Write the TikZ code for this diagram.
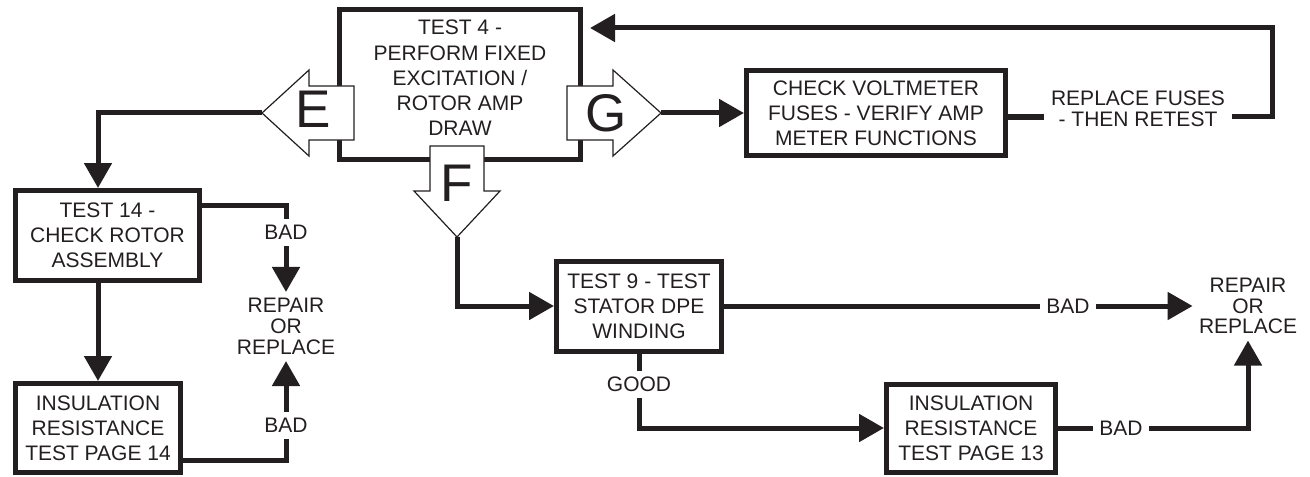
\documentclass[tikz,border=0pt]{standalone}
\usepackage{fontspec}
\setmainfont{Liberation Sans}
\usetikzlibrary{arrows.meta}
\definecolor{ink}{HTML}{231F20}

\tikzset{
  box/.style={draw=ink, line width=2.5pt, align=center, inner sep=0pt, text=ink,
    font=\fontsize{10.5}{12.6}\selectfont},
  txt/.style={align=center, inner sep=3pt, text=ink, font=\fontsize{10.5}{12.6}\selectfont},
  rep/.style={align=center, inner sep=3pt, text=ink, font=\fontsize{10.5}{10.4}\selectfont},
  wire/.style={draw=ink, line width=2.5pt},
  conn/.style={wire, -{Triangle[length=12.5pt,width=13.5pt]}},
  bigarrow/.style={draw=ink, line width=0.6pt, fill=white},
  letter/.style={inner sep=0pt, text=ink, font=\fontsize{26.5}{30}\selectfont},
}

\begin{document}
\begin{tikzpicture}[x=0.5pt,y=-0.5pt]
  \useasboundingbox (0,0) rectangle (1310,476);
  % boxes
  \node[box, minimum width=120.5pt, minimum height=75pt] (t4) at (460,84.5) {};
  \node[txt, inner sep=0pt] (t4txt) at (460,78) {TEST 4 -\\PERFORM FIXED\\EXCITATION /\\ROTOR AMP\\DRAW};
  \node[box, minimum width=129.5pt, minimum height=42.5pt] (chk) at (876,113) {CHECK VOLTMETER\\FUSES - VERIFY AMP\\METER FUNCTIONS};
  \node[box, minimum width=92pt, minimum height=45pt] (t14) at (107.5,235.5) {TEST 14 -\\CHECK ROTOR\\ASSEMBLY};
  \node[box, minimum width=82.5pt, minimum height=44.5pt] (ins14) at (98,428) {INSULATION\\RESISTANCE\\TEST PAGE 14};
  \node[box, minimum width=82.5pt, minimum height=45pt] (t9) at (639,306) {TEST 9 - TEST\\STATOR DPE\\WINDING};
  \node[box, minimum width=84.5pt, minimum height=44pt] (ins13) at (971,428) {INSULATION\\RESISTANCE\\TEST PAGE 13};

  % labels
  \node[rep] (rep1) at (286,326.5) {REPAIR\\OR\\REPLACE};
  \node[rep] (rep2) at (1248,306) {REPAIR\\OR\\REPLACE};
  \node[rep, inner sep=3.5pt] (fuse) at (1138,108.5) {REPLACE FUSES\\- THEN RETEST};
  \node[txt] (bad1) at (286,232.5) {BAD};
  \node[txt] (bad2) at (286,425.5) {BAD};
  \node[txt] (bad3) at (1068,306) {BAD};
  \node[txt] (bad4) at (1121,428) {BAD};
  \node[txt] (good) at (639,384.5) {GOOD};

  % E branch
  \coordinate (etip) at (262,113);
  \draw[conn] (etip) -| (t14.north -| ins14.north);
  \draw[conn] (t14.south -| ins14.north) -- (ins14.north);
  \draw[wire] ([yshift=15pt]t14.east) -| (bad1.north);
  \draw[conn] (bad1.south) -- (rep1.north);
  \draw[wire] ([yshift=-16pt]ins14.east) -| (bad2.south);
  \draw[conn] (bad2.north) -- (rep1.south);

  % F branch
  \coordinate (ftip) at (457,237);
  \draw[conn] (ftip) |- (t9.west);
  \draw[wire] (t9.east) -- (bad3.west);
  \draw[conn] (bad3.east) -- (rep2.west);
  \draw[wire] (t9.south) -- (good.north);
  \draw[conn] (good.south) |- (ins13.west);
  \draw[wire] (ins13.east) -- (bad4.west);
  \draw[conn] (bad4.east) -| (rep2.south);

  % G branch and retest loop
  \coordinate (gtip) at (661,113);
  \coordinate (loop) at (1272,28);
  \draw[conn] (gtip) -- (chk.west);
  \draw[wire] ([yshift=-2pt]chk.east) -- ([yshift=-2pt]chk.east -| fuse.west);
  \draw[conn, shorten >=3.5pt] ([yshift=-4pt]fuse.east) -| (loop) -- (loop -| t4.east);

  % big outlined arrows on test 4
  \draw[bigarrow] (etip) -- (309,70) -- (309,86) -- (354,86) -- (354,140) -- (309,140) -- (309,156) -- cycle;
  \node[letter] (elet) at (313,109) {E};
  \draw[bigarrow] (gtip) -- (613,70) -- (613,86) -- (567,86) -- (567,140) -- (613,140) -- (613,156) -- cycle;
  \node[letter] (glet) at (606,113) {G};
  \draw[bigarrow] (ftip) -- (414,191) -- (430,191) -- (430,146) -- (484,146) -- (484,191) -- (500,191) -- cycle;
  \node[letter] (flet) at (457,183) {F};
\end{tikzpicture}
\end{document}
